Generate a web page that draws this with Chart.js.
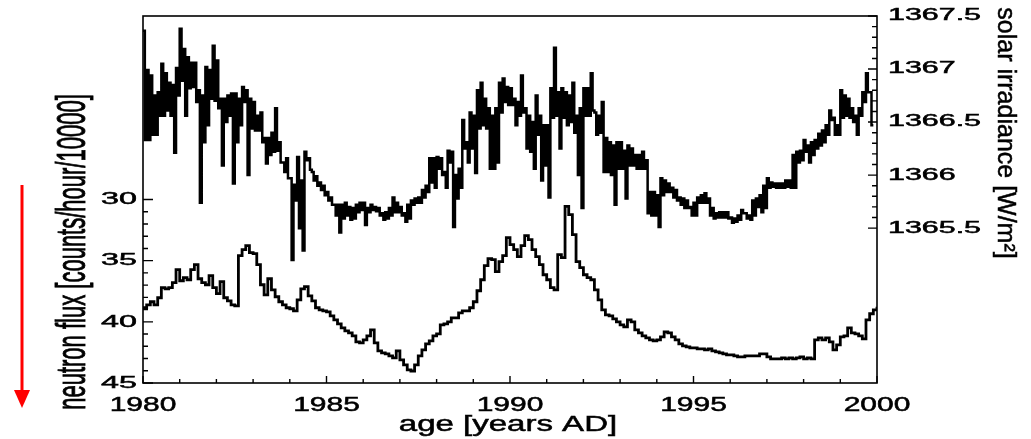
<!DOCTYPE html>
<html>
<head>
<meta charset="utf-8">
<title>Neutron flux and solar irradiance 1980-2000</title>
<script src="https://cdn.jsdelivr.net/npm/chart.js@4.4.1/dist/chart.umd.min.js"></script>
<style>
  html, body { margin: 0; padding: 0; background: #fff; }
  #wrap { width: 1031px; height: 439px; }
</style>
</head>
<body>
<div id="wrap"><canvas id="fluxChart" width="1031" height="439"></canvas></div>
<script>
// Solar irradiance (right axis) and neutron flux (left axis, inverted), 1980-2000

// irradiance samples every 0.05 yr starting 1980.0 [W/m2]
const irrStart = 1980;
const irrStep = 0.05;
const irradiance = [
    1367.36, 1366.33, 1366.99, 1366.33, 1366.94, 1366.38, 1366.75, 1366.38, 1366.78, 1366.56,
    1367.05, 1366.56, 1366.96, 1366.61, 1366.87, 1366.56, 1366.85, 1366.21, 1367.01, 1366.75,
    1367.38, 1366.89, 1367.19, 1366.56, 1367.11, 1366.82, 1367.06, 1366.83, 1367.06, 1366.69,
    1366.80, 1365.74, 1366.75, 1366.31, 1367.02, 1366.47, 1366.99, 1366.72, 1367.22, 1366.70,
    1367.08, 1366.63, 1366.72, 1366.09, 1366.72, 1366.50, 1366.75, 1366.56, 1366.77, 1365.92,
    1366.77, 1366.31, 1366.72, 1366.47, 1366.83, 1366.69, 1366.80, 1366.00, 1366.72, 1366.44,
    1366.69, 1366.42, 1366.56, 1366.42, 1366.59, 1366.31, 1366.35, 1366.11, 1366.35, 1366.19,
    1366.40, 1366.22, 1366.63, 1366.23, 1366.31, 1366.12, 1366.12, 1366.03, 1366.16, 1365.97,
    1365.97, 1365.20, 1365.91, 1365.76, 1366.17, 1365.50, 1365.95, 1365.29, 1366.22, 1366.14,
    1366.16, 1366.05, 1366.03, 1365.95, 1365.99, 1365.90, 1365.93, 1365.86, 1365.90, 1365.81,
    1365.84, 1365.76, 1365.79, 1365.72, 1365.72, 1365.62, 1365.72, 1365.46, 1365.72, 1365.59,
    1365.74, 1365.62, 1365.70, 1365.58, 1365.69, 1365.59, 1365.72, 1365.65, 1365.74, 1365.67,
    1365.74, 1365.53, 1365.69, 1365.65, 1365.72, 1365.67, 1365.70, 1365.66, 1365.69, 1365.62,
    1365.64, 1365.58, 1365.65, 1365.59, 1365.69, 1365.62, 1365.79, 1365.65, 1365.74, 1365.65,
    1365.70, 1365.62, 1365.64, 1365.56, 1365.72, 1365.59, 1365.76, 1365.72, 1365.78, 1365.74,
    1365.79, 1365.74, 1365.86, 1365.79, 1365.90, 1365.84, 1366.16, 1365.93, 1366.16, 1365.88,
    1366.17, 1366.06, 1366.16, 1366.00, 1366.03, 1365.88, 1366.23, 1366.12, 1366.22, 1365.51,
    1366.00, 1365.78, 1366.06, 1365.88, 1366.52, 1366.25, 1366.31, 1366.12, 1366.59, 1366.25,
    1366.56, 1366.02, 1366.80, 1366.44, 1366.87, 1366.47, 1366.72, 1366.44, 1366.63, 1366.06,
    1366.56, 1366.06, 1366.63, 1366.12, 1366.87, 1366.59, 1366.91, 1366.69, 1366.83, 1366.66,
    1366.82, 1366.66, 1366.72, 1366.47, 1366.69, 1366.56, 1366.94, 1366.59, 1366.63, 1366.25,
    1366.56, 1366.22, 1366.50, 1366.06, 1366.75, 1366.38, 1366.56, 1365.95, 1366.47, 1366.09,
    1366.47, 1365.79, 1366.82, 1366.54, 1367.20, 1366.56, 1366.78, 1366.25, 1366.82, 1366.54,
    1366.78, 1366.47, 1366.75, 1366.50, 1366.87, 1366.40, 1366.56, 1366.00, 1366.63, 1365.69,
    1366.82, 1366.56, 1366.82, 1366.56, 1366.96, 1366.61, 1366.59, 1366.38, 1366.56, 1366.40,
    1366.69, 1366.03, 1366.35, 1366.03, 1366.31, 1366.00, 1366.28, 1365.72, 1366.31, 1366.06,
    1366.31, 1366.06, 1366.23, 1365.78, 1366.28, 1366.09, 1366.25, 1366.09, 1366.19, 1366.06,
    1366.19, 1366.06, 1366.22, 1366.06, 1366.14, 1365.64, 1365.84, 1365.62, 1365.84, 1365.62,
    1365.81, 1365.51, 1365.97, 1365.81, 1365.95, 1365.84, 1365.92, 1365.84, 1365.88, 1365.79,
    1365.86, 1365.76, 1365.79, 1365.72, 1365.78, 1365.69, 1365.76, 1365.69, 1365.70, 1365.62,
    1365.74, 1365.62, 1365.79, 1365.74, 1365.81, 1365.74, 1365.83, 1365.74, 1365.78, 1365.62,
    1365.69, 1365.59, 1365.64, 1365.60, 1365.65, 1365.60, 1365.65, 1365.60, 1365.65, 1365.59,
    1365.60, 1365.55, 1365.59, 1365.56, 1365.62, 1365.58, 1365.67, 1365.64, 1365.64, 1365.59,
    1365.62, 1365.58, 1365.76, 1365.62, 1365.78, 1365.70, 1365.81, 1365.65, 1365.90, 1365.69,
    1365.97, 1365.88, 1365.93, 1365.89, 1365.92, 1365.88, 1365.92, 1365.88, 1365.92, 1365.88,
    1365.95, 1365.89, 1365.95, 1365.88, 1366.19, 1365.88, 1366.22, 1366.12, 1366.23, 1366.14,
    1366.33, 1366.22, 1366.28, 1366.12, 1366.31, 1366.19, 1366.33, 1366.25, 1366.39, 1366.28,
    1366.42, 1366.31, 1366.47, 1366.38, 1366.61, 1366.52, 1366.54, 1366.38, 1366.47, 1366.38,
    1366.80, 1366.54, 1366.75, 1366.56, 1366.72, 1366.54, 1366.63, 1366.50, 1366.56, 1366.38,
    1366.63, 1366.56, 1366.78, 1366.69, 1366.96, 1366.78, 1366.78, 1366.47, 1366.47
];

// neutron monitor samples every 0.1 yr starting 1980.0 [counts/hour/10000]
const fluxStart = 1980;
const fluxStep = 0.1;
const neutronFlux = [
    38.85, 38.61, 38.36, 38.61, 38.03, 37.21, 37.30, 37.21, 36.80, 35.74,
    36.64, 36.39, 36.56, 35.74, 35.33, 36.48, 36.80, 36.97, 36.23, 37.21,
    37.70, 36.72, 38.03, 38.28, 38.61, 38.69, 34.59, 34.10, 33.77, 34.34,
    34.43, 35.33, 36.97, 37.79, 36.48, 37.38, 37.95, 38.36, 38.61, 38.85,
    38.93, 39.10, 38.20, 37.30, 37.13, 37.87, 38.28, 38.85, 39.02, 39.10,
    39.18, 39.51, 39.84, 40.16, 40.49, 40.74, 40.90, 41.15, 41.64, 41.72,
    41.48, 41.15, 40.66, 41.72, 42.38, 42.54, 42.62, 42.79, 42.95, 42.38,
    43.11, 43.52, 43.93, 44.02, 43.52, 42.79, 42.30, 41.80, 41.56, 41.15,
    40.98, 40.25, 40.16, 40.00, 39.67, 39.67, 39.26, 39.10, 39.10, 38.85,
    38.36, 37.46, 36.56, 35.41, 34.84, 34.92, 35.90, 35.08, 34.59, 33.11,
    33.69, 34.10, 34.67, 33.77, 32.95, 33.28, 34.10, 34.67, 35.33, 36.15,
    36.56, 37.21, 37.38, 34.51, 34.75, 30.57, 31.23, 32.87, 35.08, 35.57,
    36.15, 36.39, 36.56, 37.38, 38.20, 39.02, 39.43, 39.51, 39.75, 40.00,
    40.25, 40.41, 39.84, 40.00, 40.66, 40.90, 41.15, 41.31, 41.48, 41.56,
    41.48, 41.23, 40.82, 40.90, 41.23, 41.48, 41.80, 41.97, 42.05, 42.13,
    42.13, 42.21, 42.21, 42.30, 42.21, 42.38, 42.46, 42.54, 42.62, 42.70,
    42.70, 42.79, 42.87, 42.87, 42.79, 42.79, 42.79, 42.79, 42.62, 42.62,
    42.87, 43.03, 43.03, 43.03, 42.95, 43.03, 42.95, 43.03, 42.95, 42.87,
    43.03, 42.95, 43.03, 41.48, 41.31, 41.48, 41.31, 41.64, 42.30, 41.89,
    41.23, 41.15, 40.49, 40.90, 40.98, 41.15, 41.39, 39.84, 39.34, 39.02, 38.77
];

// labelled ticks
const yearTicks = [1980, 1985, 1990, 1995, 2000];
const fluxTicks = [30, 35, 40, 45];
const irrTicks = [1365.5, 1366, 1366.5, 1367, 1367.5];

const FONT = '"Liberation Sans", Arial, Helvetica, sans-serif';

const irrPoints = irradiance.map((v, k) => ({ x: irrStart + k * irrStep, y: v }));
const fluxPoints = neutronFlux.map((v, k) => ({ x: fluxStart + k * fluxStep, y: v }));

// text stretched along one axis (the figure's lettering is wide)
function drawText(ctx, text, x, y, o) {
    ctx.save();
    ctx.translate(x, y);
    if (o.rotate) ctx.rotate(o.rotate);
    ctx.scale(o.sx || 1, o.sy || 1);
    ctx.font = o.size + 'px ' + FONT;
    ctx.textAlign = o.align || 'center';
    ctx.textBaseline = o.baseline || 'middle';
    ctx.fillStyle = '#000';
    ctx.strokeStyle = '#000';
    ctx.lineWidth = 0.5;
    ctx.fillText(text, 0, 0);
    ctx.strokeText(text, 0, 0);
    ctx.restore();
}

const frameAndAxes = {
    id: 'frameAndAxes',
    afterDatasetsDraw(chart) {
        const ctx = chart.ctx;
        const a = chart.chartArea;
        const sx = chart.scales.x;
        const yl = chart.scales.yFlux;
        const yr = chart.scales.yIrr;

        ctx.save();
        ctx.strokeStyle = '#000';
        ctx.lineWidth = 1.6;
        ctx.strokeRect(a.left, a.top, a.right - a.left, a.bottom - a.top);

        ctx.lineWidth = 1.4;
        ctx.beginPath();
        // left axis: minor every 1, major every 5
        for (let v = 30; v <= 45; v++) {
            const py = yl.getPixelForValue(v);
            const len = v % 5 === 0 ? 10 : 5;
            ctx.moveTo(a.left, py);
            ctx.lineTo(a.left + len, py);
        }
        // right axis: minor every 0.1, major every 0.5
        for (let k = 0; k <= 20; k++) {
            const py = yr.getPixelForValue(1365.5 + k / 10);
            const len = k % 5 === 0 ? 9 : 5;
            ctx.moveTo(a.right, py);
            ctx.lineTo(a.right - len, py);
        }
        // bottom axis: yearly, longer every 5 years
        for (let yr0 = 1980; yr0 <= 2000; yr0++) {
            const px = sx.getPixelForValue(yr0);
            const len = yr0 % 5 === 0 ? 7 : 4;
            ctx.moveTo(px, a.bottom);
            ctx.lineTo(px, a.bottom - len);
        }
        ctx.stroke();

        fluxTicks.forEach(v => {
            drawText(ctx, String(v), a.left - 6, yl.getPixelForValue(v),
                { size: 17, sx: 1.9, align: 'right' });
        });
        irrTicks.forEach(v => {
            drawText(ctx, String(v), a.right + 11, yr.getPixelForValue(v),
                { size: 16, sx: 1.9, align: 'left' });
        });
        yearTicks.forEach(v => {
            drawText(ctx, String(v), sx.getPixelForValue(v), a.bottom + 22,
                { size: 20, sx: 1.5 });
        });

        drawText(ctx, 'age [years AD]', (a.left + a.right) / 2 - 2, a.bottom + 42,
            { size: 22, sx: 1.5 });
        drawText(ctx, 'neutron flux [counts/hour/10000]', 74, 252,
            { size: 22, sy: 1.85, rotate: -Math.PI / 2 });
        drawText(ctx, 'solar irradiance [W/m\u00B2]', 1005, 133,
            { size: 25, rotate: Math.PI / 2 });

        // red arrow pointing down along the inverted flux axis
        ctx.strokeStyle = '#ff0000';
        ctx.fillStyle = '#ff0000';
        ctx.lineWidth = 3;
        ctx.beginPath();
        ctx.moveTo(22, 185);
        ctx.lineTo(22, 392);
        ctx.stroke();
        ctx.beginPath();
        ctx.moveTo(14, 390);
        ctx.lineTo(30, 390);
        ctx.lineTo(22, 408);
        ctx.closePath();
        ctx.fill();
        ctx.restore();
    }
};

new Chart(document.getElementById('fluxChart').getContext('2d'), {
    type: 'line',
    data: {
        datasets: [
            {
                label: 'solar irradiance',
                data: irrPoints,
                yAxisID: 'yIrr',
                borderColor: '#000',
                borderWidth: 2.5,
                pointRadius: 0,
                stepped: true,
                tension: 0
            },
            {
                label: 'neutron flux',
                data: fluxPoints,
                yAxisID: 'yFlux',
                borderColor: '#000',
                borderWidth: 2.8,
                pointRadius: 0,
                stepped: true,
                tension: 0
            }
        ]
    },
    options: {
        responsive: false,
        animation: false,
        devicePixelRatio: 1,
        layout: { padding: { left: 143, top: 16, right: 154, bottom: 56 } },
        plugins: {
            legend: { display: false },
            tooltip: { enabled: false }
        },
        scales: {
            x: { type: 'linear', min: 1980, max: 2000, display: false },
            yFlux: { type: 'linear', position: 'left', reverse: true, min: 15, max: 45, display: false },
            yIrr: { type: 'linear', position: 'right', min: 1364.04, max: 1367.5, display: false }
        }
    },
    plugins: [frameAndAxes]
});
</script>
</body>
</html>
